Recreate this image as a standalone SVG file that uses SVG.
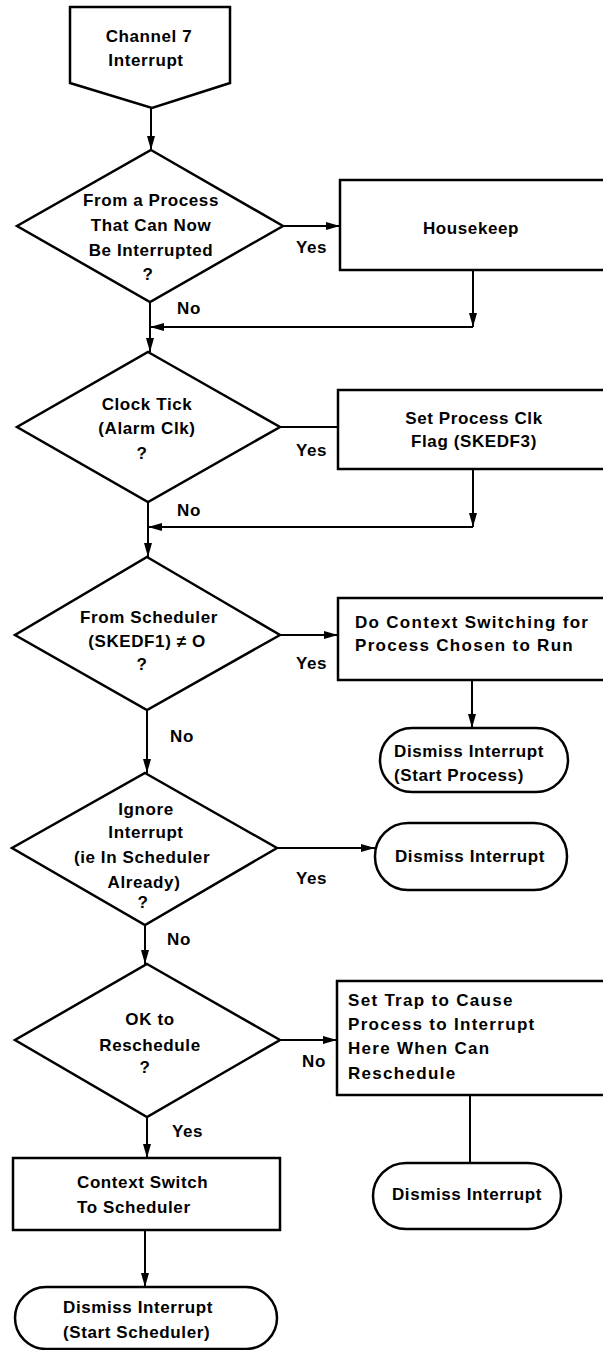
<svg xmlns="http://www.w3.org/2000/svg" width="603" height="1350" viewBox="0 0 603 1350">
<style>
.s{fill:#fff;stroke:#000;stroke-width:2.5}
.c{fill:none;stroke:#000;stroke-width:2}
text{font-family:"Liberation Sans",Arial,sans-serif;font-weight:bold;font-size:17px;fill:#000;letter-spacing:0.6px}
.m{text-anchor:middle}
.w{letter-spacing:1.3px}
</style>
<defs>
<marker id="a" markerUnits="userSpaceOnUse" markerWidth="15" markerHeight="9" refX="14" refY="4" orient="auto">
<path d="M0,0 L14,4 L0,8 z" fill="#000"/>
</marker>
</defs>
<rect width="603" height="1350" fill="#fff"/>
<g id="connectors">
<path class="c" d="M151,108 V150" marker-end="url(#a)"/>
<path class="c" d="M283,226 H340" marker-end="url(#a)"/>
<path class="c" d="M473,270 V327" marker-end="url(#a)"/>
<path class="c" d="M473,327 H150" marker-end="url(#a)"/>
<path class="c" d="M150,302 V352" marker-end="url(#a)"/>
<path class="c" d="M280,427 H338"/>
<path class="c" d="M473,469 V527" marker-end="url(#a)"/>
<path class="c" d="M473,527 H148" marker-end="url(#a)"/>
<path class="c" d="M148,502 V557" marker-end="url(#a)"/>
<path class="c" d="M280,635 H338" marker-end="url(#a)"/>
<path class="c" d="M472,680 V728" marker-end="url(#a)"/>
<path class="c" d="M147,710 V773" marker-end="url(#a)"/>
<path class="c" d="M277,848 H375" marker-end="url(#a)"/>
<path class="c" d="M145,925 V964" marker-end="url(#a)"/>
<path class="c" d="M280,1040 H337" marker-end="url(#a)"/>
<path class="c" d="M470,1095 V1163"/>
<path class="c" d="M147,1117 V1158" marker-end="url(#a)"/>
<path class="c" d="M145,1230 V1287" marker-end="url(#a)"/>
<text x="296" y="253">Yes</text>
<text x="177" y="314">No</text>
<text x="296" y="456">Yes</text>
<text x="177" y="516">No</text>
<text x="296" y="669">Yes</text>
<text x="170" y="742">No</text>
<text x="296" y="884">Yes</text>
<text x="167" y="945">No</text>
<text x="302" y="1067">No</text>
<text x="172" y="1137">Yes</text>
</g>
<g id="start">
<polygon class="s" points="70,7 230,7 230,83 152,108 70,83"/>
<text class="m" x="149" y="42">Channel 7</text>
<text class="m" x="146" y="66">Interrupt</text>
</g>
<g id="d1">
<polygon class="s" points="151,150 283,226 150,302 17,226"/>
<text class="m" x="151" y="206">From a Process</text>
<text class="m" x="151" y="231">That Can Now</text>
<text class="m" x="151" y="256">Be Interrupted</text>
<text class="m" x="148" y="280">?</text>
</g>
<g id="housekeep">
<rect class="s" x="340" y="180" width="280" height="90"/>
<text class="m" x="471" y="234">Housekeep</text>
</g>
<g id="d2">
<polygon class="s" points="148,352 280,427 148,502 17,427"/>
<text class="m" x="147" y="410">Clock Tick</text>
<text class="m" x="147" y="434">(Alarm Clk)</text>
<text class="m" x="142" y="459">?</text>
</g>
<g id="setclk">
<rect class="s" x="338" y="390" width="280" height="79"/>
<text class="m" x="474" y="424">Set Process Clk</text>
<text class="m" x="474" y="447">Flag (SKEDF3)</text>
</g>
<g id="d3">
<polygon class="s" points="147,557 280,635 147,710 15,635"/>
<text class="m" x="149" y="623">From Scheduler</text>
<text class="m" x="147" y="647">(SKEDF1) ≠ O</text>
<text class="m" x="142" y="670">?</text>
</g>
<g id="ctxrun">
<rect class="s" x="338" y="598" width="280" height="82"/>
<text class="w" x="355" y="628">Do Context Switching for</text>
<text class="w" x="355" y="651">Process Chosen to Run</text>
</g>
<g id="dismiss1">
<rect class="s" x="380" y="728" width="188" height="64" rx="32"/>
<text x="394" y="757">Dismiss Interrupt</text>
<text x="394" y="781">(Start Process)</text>
</g>
<g id="d4">
<polygon class="s" points="145,773 277,848 145,925 12,848"/>
<text class="m" x="146" y="815">Ignore</text>
<text class="m" x="146" y="838">Interrupt</text>
<text class="m" x="142" y="863">(ie In Scheduler</text>
<text class="m" x="144" y="888">Already)</text>
<text class="m" x="143" y="908">?</text>
</g>
<g id="dismiss2">
<rect class="s" x="375" y="823" width="192" height="67" rx="33"/>
<text class="m" x="470" y="862">Dismiss Interrupt</text>
</g>
<g id="d5">
<polygon class="s" points="147,964 280,1040 147,1117 15,1040"/>
<text class="m" x="150" y="1025">OK to</text>
<text class="m" x="150" y="1051">Reschedule</text>
<text class="m" x="145" y="1073">?</text>
</g>
<g id="settrap">
<rect class="s" x="337" y="981" width="280" height="114"/>
<text class="w" x="348" y="1006">Set Trap to Cause</text>
<text class="w" x="348" y="1030">Process to Interrupt</text>
<text class="w" x="348" y="1054">Here When Can</text>
<text class="w" x="348" y="1079">Reschedule</text>
</g>
<g id="dismiss3">
<rect class="s" x="373" y="1163" width="188" height="66" rx="33"/>
<text class="m" x="467" y="1200">Dismiss Interrupt</text>
</g>
<g id="ctxsched">
<rect class="s" x="13" y="1158" width="267" height="72"/>
<text x="77" y="1188">Context Switch</text>
<text x="77" y="1213">To Scheduler</text>
</g>
<g id="dismiss4">
<rect class="s" x="15" y="1287" width="262" height="62" rx="31"/>
<text x="63" y="1313">Dismiss Interrupt</text>
<text x="63" y="1338">(Start Scheduler)</text>
</g>
</svg>
